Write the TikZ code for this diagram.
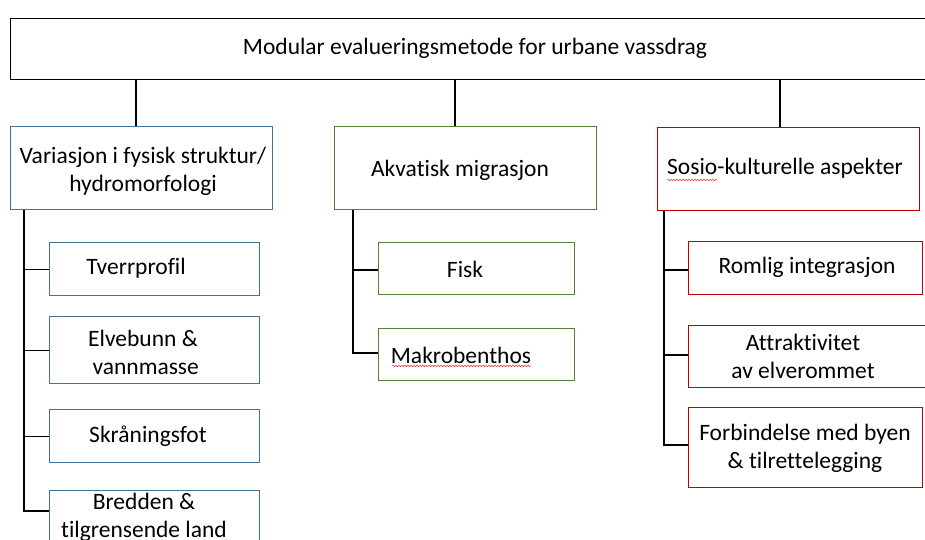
\documentclass[tikz,border=0pt]{standalone}
\usepackage{fontspec}
\setmainfont{Carlito}[Ligatures=NoCommon]
\usetikzlibrary{decorations.pathmorphing}
\definecolor{cblue}{RGB}{65,113,156}
\definecolor{cgreen}{RGB}{84,130,53}
\definecolor{cred}{RGB}{192,0,0}
\begin{document}
\begin{tikzpicture}[x=1pt,y=-1pt,
  box/.style={draw, line width=1.3pt, anchor=north west, inner sep=0pt, fill=white},
  lbl/.style={font=\fontsize{23.5}{28}\selectfont, align=center, inner sep=0pt},
  conn/.style={draw=black, line width=1.3pt},
  squig/.style={draw=red!80, line width=0.5pt, decorate, decoration={snake, amplitude=0.8pt, segment length=3pt}}]
\useasboundingbox (0,0) rectangle (925,540);
\clip (0,0) rectangle (925,540);
% top
\node[box, minimum width=930pt, minimum height=61pt] (top) at (10,18) {};
\node[lbl] (toptxt) at (475,48) {Modular evalueringsmetode for urbane vassdrag};
% column boxes
\node[box, draw=cblue, minimum width=262pt, minimum height=83pt] (c1) at (10,126) {};
\node[lbl] (c1t) at (143,171) {Variasjon i fysisk struktur/\\hydromorfologi};
\node[box, draw=cgreen, minimum width=262pt, minimum height=83pt] (c2) at (334,126) {};
\node[lbl] (c2t) at (460,170) {Akvatisk migrasjon};
\node[box, draw=cred, minimum width=262pt, minimum height=83pt] (c3) at (657,127) {};
\node[lbl] (c3t) at (785,168) {Sosio-kulturelle aspekter};
% connectors top -> columns
\draw[conn] (top.south -| 136,0) -- (c1.north -| 136,0);
\draw[conn] (top.south -| 455,0) -- (c2.north -| 455,0);
\draw[conn] (top.south -| 780,0) -- (c3.north -| 780,0);
% column 1 children
\node[box, draw=cblue, minimum width=210pt, minimum height=53pt] (a1) at (49,242) {};
\node[lbl] (a1t) at (136,268) {Tverrprofil};
\node[box, draw=cblue, minimum width=210pt, minimum height=67pt] (a2) at (49,316) {};
\node[lbl] (a2t) at (143,352) {Elvebunn \&\\\phantom{i}vannmasse};
\node[box, draw=cblue, minimum width=210pt, minimum height=53pt] (a3) at (49,409) {};
\node[lbl] (a3t) at (148,436) {Skråningsfot};
\node[box, draw=cblue, minimum width=210pt, minimum height=70pt] (a4) at (49,490) {};
\node[lbl] (a4t) at (144,517) {Bredden \&\\tilgrensende land};
\draw[conn] (c1.south -| 24,0) |- (a1.west);
\draw[conn] (c1.south -| 24,0) |- (a2.west);
\draw[conn] (c1.south -| 24,0) |- (a3.west);
\draw[conn] (c1.south -| 24,0) |- (a4.west |- 0,511);
% column 2 children
\node[box, draw=cgreen, minimum width=196pt, minimum height=52pt] (b1) at (378,242) {};
\node[lbl] (b1t) at (465,269) {Fisk};
\node[box, draw=cgreen, minimum width=196pt, minimum height=52pt] (b2) at (378,328) {};
\node[lbl] (b2t) at (461,355) {Makrobenthos};
\draw[squig] (392,366) -- (531,366);
\draw[conn] (c2.south -| 353,0) |- (b1.west |- 0,270);
\draw[conn] (c2.south -| 353,0) |- (b2.west |- 0,353);
% column 3 children
\node[box, draw=cred, minimum width=234pt, minimum height=53pt] (d1) at (688,241) {};
\node[lbl] (d1t) at (807,267) {Romlig integrasjon};
\node[box, draw=cred, minimum width=240pt, minimum height=62pt] (d2) at (688,325) {};
\node[lbl] (d2t) at (803,356) {Attraktivitet\\av elverommet};
\node[box, draw=cred, minimum width=234pt, minimum height=80pt] (d3) at (688,407) {};
\node[lbl] (d3t) at (805,448) {Forbindelse med byen\\\&\ tilrettelegging};
\draw[squig] (667,180) -- (717,180);
\draw[conn] (c3.south -| 664,0) |- (d1.west |- 0,270);
\draw[conn] (c3.south -| 664,0) |- (d2.west |- 0,355);
\draw[conn] (c3.south -| 664,0) |- (d3.west |- 0,445);
\end{tikzpicture}
\end{document}
